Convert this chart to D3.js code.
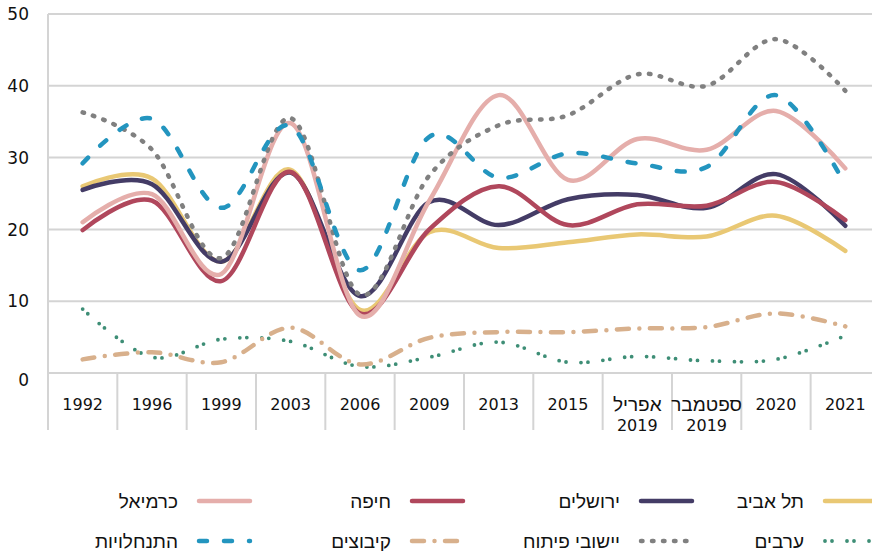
<!DOCTYPE html>
<html>
<head>
<meta charset="utf-8">
<script src="https://cdn.jsdelivr.net/npm/d3@7"></script>
<style>
  body { margin: 0; background: #fff; }
  svg { display: block; font-family: "DejaVu Sans", sans-serif; }
  .heb { font-family: "Liberation Sans", Arial, sans-serif; }
</style>
</head>
<body>
<div id="graph"></div>
<script>
"use strict";
(function() {
    const categories = ["1992", "1996", "1999", "2003", "2006", "2009", "2013", "2015",
                        "אפריל 2019", "ספטמבר 2019", "2020", "2021"];
    // tick labels, split into lines
    const tickLines = [["1992"], ["1996"], ["1999"], ["2003"], ["2006"], ["2009"], ["2013"],
                       ["2015"], ["אפריל", "2019"], ["ספטמבר", "2019"], ["2020"], ["2021"]];
    const yTicks = [0, 10, 20, 30, 40, 50];

    const telAviv     = [26.0, 27.1, 15.5, 28.3, 8.8, 19.6, 17.4, 18.2, 19.3, 19.0, 21.9, 17.0];
    const jerusalem   = [25.5, 26.3, 15.5, 27.9, 10.7, 23.8, 20.6, 24.2, 24.8, 23.0, 27.7, 20.5];
    const haifa       = [19.9, 24.0, 12.8, 28.0, 8.3, 20.0, 26.0, 20.6, 23.5, 23.3, 26.6, 21.3];
    const karmiel     = [21.0, 24.9, 13.8, 34.8, 8.0, 24.0, 38.7, 26.9, 32.6, 31.1, 36.5, 28.5];
    const arabs       = [8.9, 2.2, 4.7, 4.4, 0.9, 2.2, 4.3, 1.5, 2.3, 1.7, 1.9, 5.2];
    const development = [36.3, 31.1, 16.0, 35.5, 10.9, 27.5, 34.5, 35.9, 41.6, 40.0, 46.5, 39.3];
    const kibbutz     = [1.9, 2.9, 1.5, 6.3, 1.2, 4.9, 5.7, 5.7, 6.2, 6.4, 8.3, 6.5];
    const settlements = [29.2, 35.4, 23.0, 34.4, 14.3, 32.9, 27.2, 30.6, 29.2, 28.7, 38.7, 26.2];

    const seriesNames = ["תל אביב", "ירושלים", "חיפה", "כרמיאל",
                         "ערבים", "יישובי פיתוח", "קיבוצים", "התנחלויות"];
    const seriesValues = [telAviv, jerusalem, haifa, karmiel, arabs, development, kibbutz, settlements];
    const seriesColors = ["#E9C874", "#443C66", "#B0475C", "#E5AEAB",
                          "#3E8E76", "#808080", "#D8B08C", "#2395BF"];
    const seriesDash = [null, null, null, null, "0,7,0,15", "1.5,9.5", "12,10.5,0,10.5", "8,17"];
    const seriesWidth = [4.5, 4.5, 4.5, 4.5, 3.8, 4.5, 4.5, 4.5];

    const width = 872, height = 551;
    const plot = { left: 48, top: 14, bottom: 373, bandW: 69.33 };
    const isHebrew = (s) => /[\u0590-\u05FF]/.test(s);

    const svg = d3.select("#graph").append("svg")
        .attr("width", width)
        .attr("height", height);

    const xScale = d3.scaleBand()
        .domain(categories)
        .range([plot.left, plot.left + plot.bandW * categories.length]);
    const yScale = d3.scaleLinear()
        .domain([0, 50])
        .range([plot.bottom, plot.top]);

    // horizontal grid
    svg.append("g").selectAll("line")
        .data(yTicks)
        .join("line")
            .attr("x1", plot.left)
            .attr("x2", width)
            .attr("y1", d => yScale(d))
            .attr("y2", d => yScale(d))
            .attr("stroke", "#d4d4d4")
            .attr("stroke-width", 2);

    // left axis line
    svg.append("line")
        .attr("x1", plot.left).attr("x2", plot.left)
        .attr("y1", plot.top).attr("y2", 430)
        .attr("stroke", "#d4d4d4")
        .attr("stroke-width", 2);

    // category separators
    svg.append("g").selectAll("line")
        .data(categories)
        .join("line")
            .attr("x1", d => xScale(d) + xScale.bandwidth())
            .attr("x2", d => xScale(d) + xScale.bandwidth())
            .attr("y1", plot.bottom)
            .attr("y2", 430)
            .attr("stroke", "#d4d4d4")
            .attr("stroke-width", 2);

    // y labels
    svg.append("g").selectAll("text")
        .data(yTicks)
        .join("text")
            .attr("x", 29)
            .attr("y", d => yScale(d) + (d === 0 ? 7 : 0))
            .attr("dy", "0.36em")
            .attr("text-anchor", "end")
            .style("font-size", "17px")
            .attr("fill", "#111")
            .text(d => d);

    // x labels
    const xl = svg.append("g").selectAll("text")
        .data(categories)
        .join("text")
            .attr("x", d => xScale(d) + xScale.bandwidth() / 2)
            .attr("y", 404)
            .attr("text-anchor", "middle")
            .style("font-size", "16px")
            .attr("fill", "#111");
    xl.each(function(d, i) {
        d3.select(this).selectAll("tspan")
            .data(tickLines[i])
            .join("tspan")
                .attr("class", t => isHebrew(t) ? "heb" : null)
                .style("font-size", t => isHebrew(t) ? "19px" : null)
                .attr("x", xScale(d) + xScale.bandwidth() / 2)
                .attr("y", (t, j) => 404 + j * 21)
                .attr("dy", "0.36em")
                .text(t => t);
    });

    // lines
    const line = d3.line()
        .x((v, i) => xScale(categories[i]) + xScale.bandwidth() / 2)
        .y(v => yScale(v))
        .curve(d3.curveCatmullRom.alpha(0));

    svg.append("g").selectAll("path")
        .data(seriesValues)
        .join("path")
            .attr("d", d => line(d))
            .attr("fill", "none")
            .attr("stroke", (d, i) => seriesColors[i])
            .attr("stroke-width", (d, i) => seriesWidth[i])
            .attr("stroke-linecap", "round")
            .attr("stroke-dasharray", (d, i) => seriesDash[i]);

    // legend: right to left, two rows
    const legendCols = [823, 639, 410, 197];
    const legendRows = [501, 541];
    const leg = svg.append("g").selectAll("g")
        .data(seriesNames)
        .join("g")
            .attr("transform", (d, i) => "translate(" + legendCols[i % 4] + "," + legendRows[Math.floor(i / 4)] + ")");
    leg.append("line")
        .attr("x1", 2).attr("x2", 53)
        .attr("stroke", (d, i) => seriesColors[i])
        .attr("stroke-width", (d, i) => seriesWidth[i])
        .attr("stroke-linecap", "round")
        .attr("stroke-dasharray", (d, i) => seriesDash[i]);
    leg.append("text")
        .attr("class", "heb")
        .attr("x", -19)
        .attr("dy", "0.36em")
        .attr("text-anchor", "end")
        .style("font-size", "19px")
        .attr("fill", "#111")
        .text(d => d);
})();
</script>
</body>
</html>
